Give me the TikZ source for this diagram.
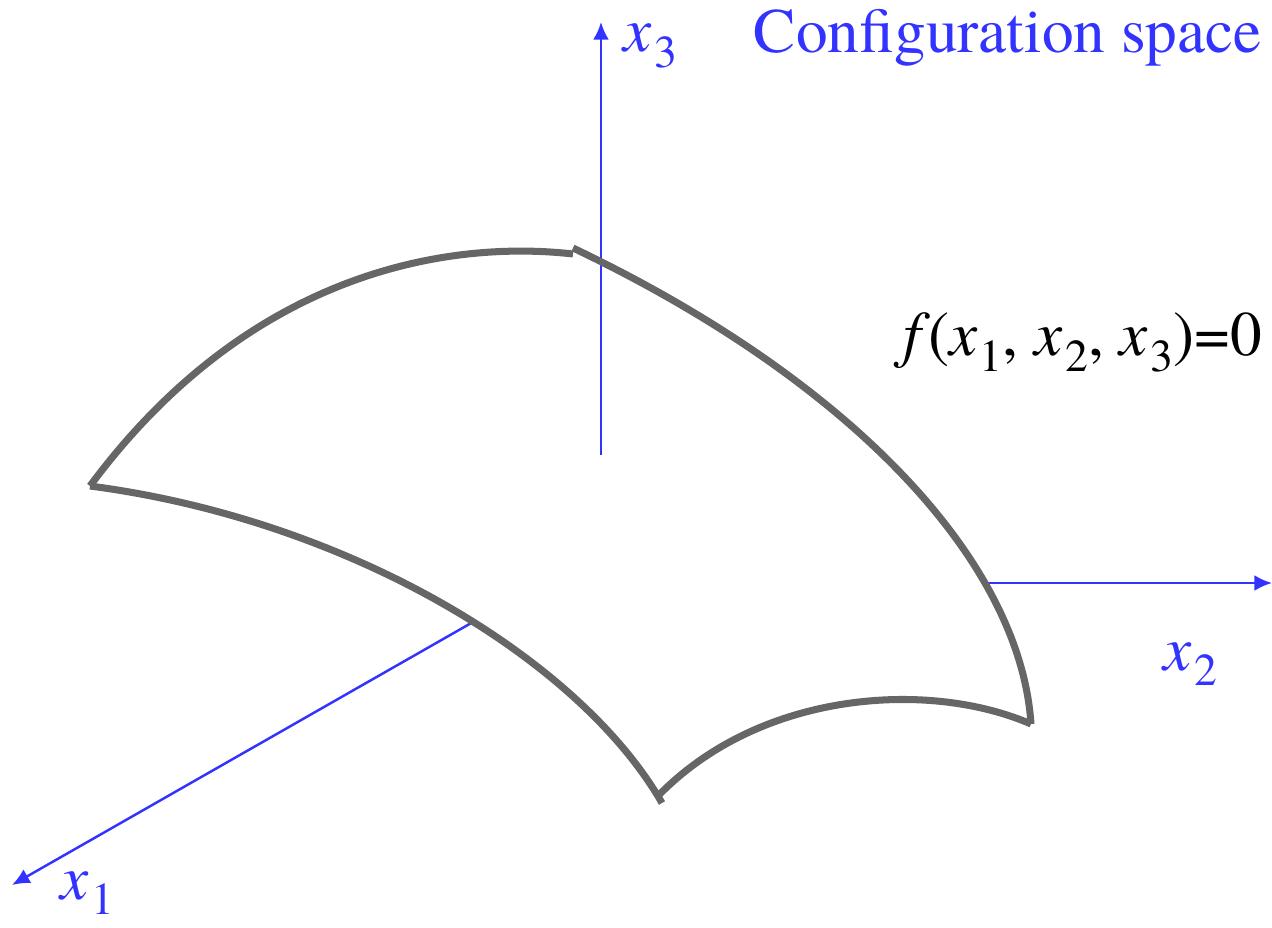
\documentclass[tikz,border=0pt]{standalone}
\usepackage{fontspec}
\setmainfont{texgyretermes}[Extension=.otf, UprightFont=*-regular, ItalicFont=*-italic, BoldFont=*-bold, BoldItalicFont=*-bolditalic]
\usepackage{tikz}
\usetikzlibrary{arrows.meta}
\definecolor{axisblue}{RGB}{51,51,255}
\definecolor{edgegray}{RGB}{102,102,102}
\newcommand{\var}[2]{\textit{x}\kern0.04em\raisebox{-0.25em}{\fontsize{26}{30}\selectfont #2}}
\tikzset{
  axis/.style={draw=axisblue, line width=1.4pt, -{Latex[length=10pt,width=9pt]}},
  edge/.style={draw=edgegray, line width=4pt},
  axlabel/.style={text=axisblue, font=\fontsize{36}{42}\selectfont, inner sep=0pt}
}
\begin{document}
\begin{tikzpicture}[x=0.02cm, y=-0.02cm]
                    \useasboundingbox (0,0) rectangle (1272,927);
                    % Define corners of the surface
                    \coordinate (L) at (90,486);
                    \coordinate (T1) at (573,254);
                    \coordinate (T2) at (573,248);
                    \coordinate (R) at (1031,724);
                    \coordinate (B1) at (657,797);
                    \coordinate (B2) at (662,803);
                    % Define axis ends
                    \coordinate (o3) at (601,455);
                    \coordinate (e3) at (601,22);
                    \coordinate (o2) at (988,583);
                    \coordinate (e2) at (1272,583);
                    \coordinate (o1) at (473,622);
                    \coordinate (e1) at (12,885);

                    % Draw axes
                    \draw[axis] (o3) -- (e3);
                    \draw[axis] (o2) -- (e2);
                    \draw[axis] (o1) -- (e1);

                    % Draw surface edges
                    \draw[edge] (L) .. controls (250,270) and (450,240) .. (T1);
                    \draw[edge] (T2) .. controls (850,380) and (1020,560) .. (R);
                    \draw[edge] (R) .. controls (930,680) and (760,690) .. (B1);
                    \draw[edge] (L) .. controls (350,520) and (580,660) .. (B2);

                    % Labels
                    \node[axlabel, anchor=west] (l3) at (623,46) {\var{x}{3}};
                    \node[axlabel, anchor=west] (l2) at (1163,664) {\var{x}{2}};
                    \node[axlabel, anchor=west] (l1) at (60,893) {\var{x}{1}};
                    \node[axlabel, anchor=east] (title) at (1262,38) {Configuration space};
                    \node[axlabel, anchor=east, text=black] (eq) at (1262,342) {\textit{f}\kern-0.04em(\var{x}{1}, \var{x}{2}, \var{x}{3})=0};
                \end{tikzpicture}
\end{document}
